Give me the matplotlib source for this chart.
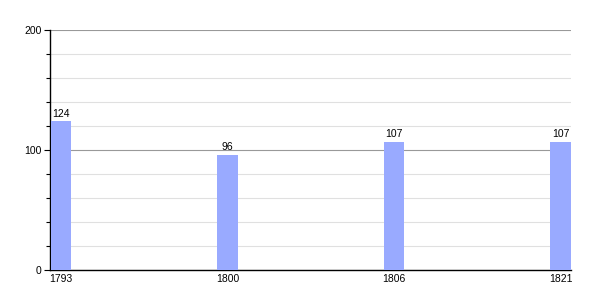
import matplotlib
matplotlib.use("Agg")
import matplotlib.pyplot as plt
from matplotlib.ticker import MultipleLocator

years = ["1793", "1800", "1806", "1821"]
values = [124, 96, 107, 107]

plt.rcParams['font.family'] = ['Liberation Sans', 'DejaVu Sans']

fig = plt.figure(figsize=(6, 3), dpi=100)
ax = fig.add_axes([50/600, 0.1, 521/600, 0.8])

x = list(range(len(years)))
bars = ax.bar(x, values, width=0.125, color='#99aaff', zorder=3)
for xi, v in zip(x, values):
    ax.text(xi, v + 2, str(v), ha='center', va='bottom', fontsize=7.5, color='black', zorder=4)

ax.set_xlim(-0.066, 3.063)
ax.set_ylim(0, 200)
ax.set_xticks(x)
ax.set_xticklabels(years, fontsize=7.5)
ax.yaxis.set_major_locator(MultipleLocator(100))
ax.yaxis.set_minor_locator(MultipleLocator(20))
ax.tick_params(axis='y', which='major', length=4, width=0.8, labelsize=7.5, pad=2)
ax.tick_params(axis='y', which='minor', length=3, width=0.8)
ax.tick_params(axis='x', length=0, labelsize=7.5, pad=3)

ax.grid(axis='y', which='major', color='#999999', linewidth=0.8, zorder=0)
ax.grid(axis='y', which='minor', color='#e0e0e0', linewidth=0.8, zorder=0)

for s in ['top', 'right']:
    ax.spines[s].set_visible(False)
ax.spines['left'].set_color('black')
ax.spines['bottom'].set_color('black')
ax.spines['left'].set_linewidth(1)
ax.spines['bottom'].set_linewidth(1)

fig.savefig("out.png", dpi=100, facecolor='white')
